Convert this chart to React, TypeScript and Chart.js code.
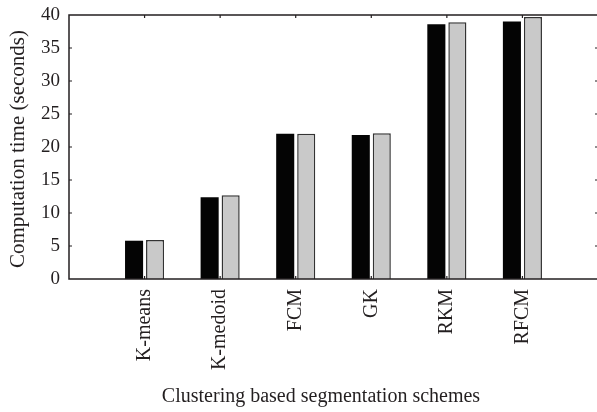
import React, { useEffect, useRef } from "react";
import { Chart, registerables } from "chart.js";

Chart.register(...registerables);

const categories = ["", "K-means", "K-medoid", "FCM", "GK", "RKM", "RFCM", ""];
const seriesBlack = [null, 5.8, 12.4, 22.0, 21.8, 38.6, 39.0, null];
const seriesGrey = [null, 5.9, 12.7, 22.0, 22.1, 38.9, 39.7, null];
const yMin = 0;
const yMax = 40;
const yStep = 5;
const xTitle = "Clustering based segmentation schemes";
const yTitle = "Computation time (seconds)";

const FONT = "'Liberation Serif', 'Times New Roman', serif";
const TEXT = "#231f20";

const framePlugin = {
  id: "frame",
  afterDatasetsDraw(chart: any) {
    const { ctx, scales } = chart;
    const left = scales.x.getPixelForValue(0);
    const right = scales.x.getPixelForValue(categories.length - 1);
    const top = scales.y.getPixelForValue(yMax);
    const bottom = scales.y.getPixelForValue(yMin);
    ctx.save();
    ctx.strokeStyle = TEXT;
    ctx.lineWidth = 1.5;
    ctx.strokeRect(left, top, right - left, bottom - top);
    ctx.lineWidth = 1.2;
    ctx.beginPath();
    for (let v = yMin + yStep; v < yMax; v += yStep) {
      const y = scales.y.getPixelForValue(v);
      ctx.moveTo(left, y);
      ctx.lineTo(left + 3, y);
      ctx.moveTo(right, y);
      ctx.lineTo(right - 3, y);
    }
    for (let i = 1; i < categories.length - 1; i++) {
      const x = scales.x.getPixelForValue(i);
      ctx.moveTo(x, top);
      ctx.lineTo(x, top + 3);
      ctx.moveTo(x, bottom);
      ctx.lineTo(x, bottom - 3);
    }
    ctx.stroke();
    ctx.fillStyle = TEXT;
    ctx.font = `20px ${FONT}`;
    ctx.textAlign = "center";
    ctx.textBaseline = "middle";
    ctx.fillText(xTitle, 321, 397);
    ctx.font = `21px ${FONT}`;
    ctx.translate(18, 149);
    ctx.rotate(-Math.PI / 2);
    ctx.fillText(yTitle, 0, 0);
    ctx.restore();
  },
};

export default function App() {
  const ref = useRef<HTMLCanvasElement | null>(null);
  useEffect(() => {
    document.body.style.margin = "0";
    const chart = new Chart(ref.current as HTMLCanvasElement, {
      type: "bar",
      data: {
        labels: categories,
        datasets: [
          {
            data: seriesBlack as any,
            backgroundColor: "#040404",
            borderColor: "#040404",
            borderWidth: 0,
            categoryPercentage: 0.556,
            barPercentage: 0.86,
          },
          {
            data: seriesGrey as any,
            backgroundColor: "#c9c9c9",
            borderColor: "#333333",
            borderWidth: 1.5,
            categoryPercentage: 0.556,
            barPercentage: 0.86,
          },
        ],
      },
      options: {
        animation: false,
        responsive: true,
        maintainAspectRatio: false,
        layout: { padding: { top: 15, right: 6, left: 0, bottom: 40 } },
        plugins: { legend: { display: false }, tooltip: { enabled: false } },
        scales: {
          x: {
            type: "category",
            offset: false,
            grid: { display: false, drawTicks: false },
            border: { display: false },
            ticks: {
              minRotation: 90,
              maxRotation: 90,
              autoSkip: false,
              padding: 10,
              color: TEXT,
              font: { family: FONT, size: 20 },
            },
            afterFit: (s: any) => {
              s.height = 93;
              s.paddingLeft = 0;
              s.paddingRight = 0;
            },
          },
          y: {
            min: yMin,
            max: yMax,
            grid: { display: false, drawTicks: false },
            border: { display: false },
            ticks: {
              stepSize: yStep,
              padding: 9,
              color: TEXT,
              font: { family: FONT, size: 19 },
            },
            afterFit: (s: any) => {
              s.width = 69;
              s.paddingTop = 0;
              s.paddingBottom = 0;
            },
          },
        },
      },
      plugins: [framePlugin],
    });
    return () => chart.destroy();
  }, []);
  return (
    <div style={{ position: "fixed", left: 0, top: 0, width: 597, height: 412, overflow: "hidden", background: "#fff" }}>
      <div style={{ position: "relative", width: 604, height: 412 }}>
        <canvas ref={ref} />
      </div>
    </div>
  );
}
